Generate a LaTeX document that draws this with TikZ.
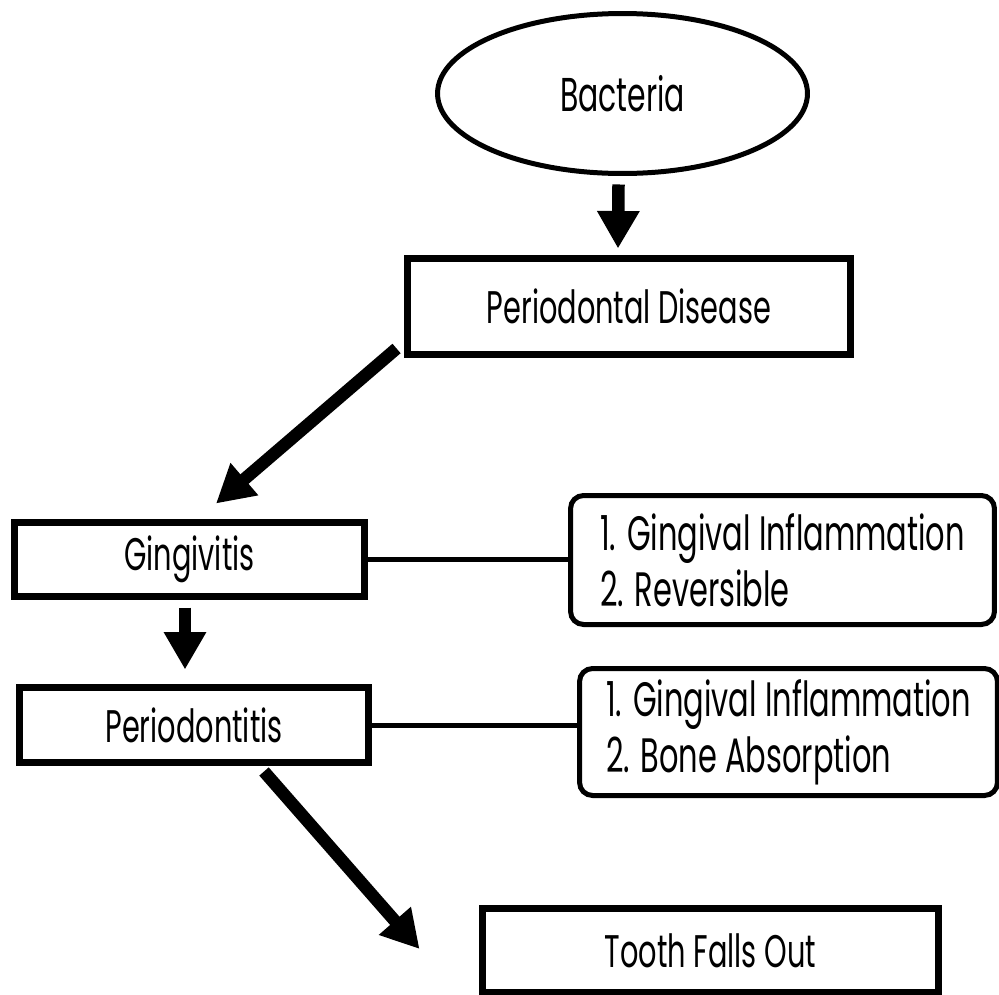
\documentclass[tikz,border=0pt]{standalone}
\usepackage{fontspec}
\setmainfont{Poppins}[FakeStretch=0.63]
\usetikzlibrary{shapes.geometric, arrows.meta}

\begin{document}
\begin{tikzpicture}[x=0.02cm, y=-0.02cm,
  box/.style={draw, line width=0.14cm, minimum height=1.5cm,
              font=\fontsize{26}{30}\selectfont},
  note/.style={draw, line width=0.1cm, rounded corners=0.26cm, align=left,
               font=\fontsize{27.5}{32}\selectfont},
  arr/.style={line width=0.25cm, -{Triangle[length=0.75cm, width=0.8cm]}},
  link/.style={line width=0.1cm}]
  \useasboundingbox (0,0) rectangle (999,994);
  \node[ellipse, draw, line width=0.1cm, minimum width=7.4cm, minimum height=3.2cm,
        font=\fontsize{27}{30}\selectfont] (bact) at (622.5,93.5) {Bacteria};
  \node[box, minimum width=8.86cm, minimum height=1.92cm] (pd) at (629,306.5)
    {Periodontal Disease};
  \node[box, minimum width=7cm, minimum height=1.48cm] (ging) at (189.5,559.5)
    {Gingivitis};
  \node[box, minimum width=6.98cm] (perio) at (194,725) {Periodontitis};
  \node[box, minimum width=9.12cm, minimum height=1.68cm] (tooth) at (710.5,950.5)
    {Tooth Falls Out};
  \node[note, minimum width=8.48cm, minimum height=2.58cm] (sym1) at (782.5,560)
    {1. Gingival Inflammation\\2. Reversible};
  \node[note, minimum width=8.36cm, minimum height=2.54cm] (sym2) at (788.5,732)
    {1. Gingival Inflammation\\2. Bone Absorption};
  \draw[arr] ([shift={(-4,8.5)}]bact.south) -- ([shift={(-11,-6.5)}]pd.north);
  \draw[arr] ([shift={(-7.5,-9.5)}]pd.south west) -- ([shift={(26.5,-15.5)}]ging.north);
  \draw[arr] ([shift={(-4.5,7.5)}]ging.south) -- ([shift={(-9,-14.5)}]perio.north);
  \draw[arr] ([shift={(70,5.5)}]perio.south) -- ([shift={(-59.5,-1.5)}]tooth.west);
  \draw[link] (ging.east) -- (ging.east -| sym1.west);
  \draw[link] (perio.east) -- (perio.east -| sym2.west);
\end{tikzpicture}
\end{document}
